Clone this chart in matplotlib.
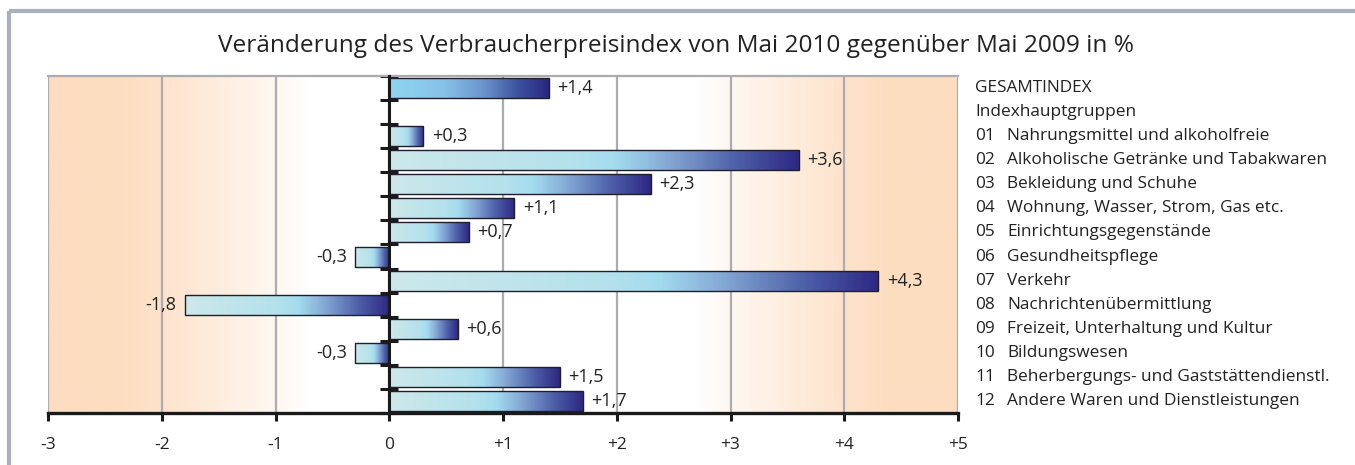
import numpy as np
import matplotlib
matplotlib.use("Agg")
import matplotlib.pyplot as plt
from matplotlib import transforms
from matplotlib.colors import LinearSegmentedColormap
from matplotlib.lines import Line2D

plt.rcParams['font.family'] = ['Open Sans', 'DejaVu Sans']

# ---------------- data ----------------
title = "Veränderung des Verbraucherpreisindex von Mai 2010 gegenüber Mai 2009 in %"
codes = ["", "", "01", "02", "03", "04", "05", "06", "07", "08", "09", "10", "11", "12"]
names = ["GESAMTINDEX", "Indexhauptgruppen",
         "Nahrungsmittel und alkoholfreie",
         "Alkoholische Getränke und Tabakwaren",
         "Bekleidung und Schuhe",
         "Wohnung, Wasser, Strom, Gas etc.",
         "Einrichtungsgegenstände",
         "Gesundheitspflege",
         "Verkehr",
         "Nachrichtenübermittlung",
         "Freizeit, Unterhaltung und Kultur",
         "Bildungswesen",
         "Beherbergungs- und Gaststättendienstl.",
         "Andere Waren und Dienstleistungen"]
values = [1.4, None, 0.3, 3.6, 2.3, 1.1, 0.7, -0.3, 4.3, -1.8, 0.6, -0.3, 1.5, 1.7]
xticks = [-3, -2, -1, 0, 1, 2, 3, 4, 5]
xticklabels = ["-3", "-2", "-1", "0", "+1", "+2", "+3", "+4", "+5"]

# ---------------- figure ----------------
W, H = 1355, 465
fig = plt.figure(figsize=(W / 100, H / 100), dpi=100)
fig.patch.set_facecolor("white")

# outer frame (left and top lines)
frame_col = "#a7afbd"
fig.add_artist(Line2D([9 / W, 9 / W], [0, 1 - 11 / H], transform=fig.transFigure,
                      color=frame_col, lw=3, solid_capstyle="butt"))
fig.add_artist(Line2D([9 / W, 1], [1 - 11 / H, 1 - 11 / H], transform=fig.transFigure,
                      color=frame_col, lw=3, solid_capstyle="butt"))

ax_l, ax_r, ax_t, ax_b = 48, 958, 76, 413
ax = fig.add_axes([ax_l / W, 1 - ax_b / H, (ax_r - ax_l) / W, (ax_b - ax_t) / H])

nrows = len(names)
xmin, xmax = xticks[0], xticks[-1]

# background gradient (orange at edges, white in middle), symmetric around x=1
orange = np.array([253, 221, 192]) / 255.0
white = np.array([1.0, 1.0, 1.0])
xs = np.linspace(xmin, xmax, 1000)
d = np.abs(xs - 1.0)
t = np.interp(d, [0, 1.7, 2.0, 2.5, 3.0, 3.4, 4.0], [0, 0, 0.22, 0.52, 0.82, 1.0, 1.0])
bg = white[None, :] * (1 - t[:, None]) + orange[None, :] * t[:, None]
ax.imshow(bg[None, :, :], extent=(xmin, xmax, nrows, 0), aspect="auto",
          interpolation="bilinear", zorder=0)

# grid
for xv in xticks:
    ax.axvline(xv, color="#ababb0", lw=1.6, zorder=1)

# bars
cmap_main = LinearSegmentedColormap.from_list(
    "main", [(0.0, "#cde8ea"), (0.45, "#b4e1ec"), (0.55, "#a4dcef"),
             (0.68, "#85a9d5"), (0.85, "#4d5fa8"), (1.0, "#2d2883")])
cmap_total = LinearSegmentedColormap.from_list(
    "total", [(0.0, "#8fd5f0"), (0.35, "#86c1e6"), (0.6, "#6a92cc"),
              (0.82, "#3a4e9c"), (1.0, "#2b2780")])
grad = np.linspace(0, 1, 256)[None, :]

ys = [i + 0.5 for i, v in enumerate(values) if v is not None]
vals = [v for v in values if v is not None]
bars = ax.barh(ys, vals, height=0.83, left=0, facecolor="none",
               edgecolor="#1e1e2e", linewidth=1.0, zorder=4)
for i, (b, v) in enumerate(zip(bars, vals)):
    x0, y0 = b.get_x(), b.get_y()
    w, h = b.get_width(), b.get_height()
    lo, hi = min(x0, x0 + w), max(x0, x0 + w)
    cm = cmap_total if i == 0 else cmap_main
    im = ax.imshow(grad, cmap=cm, extent=(lo, hi, y0 + h, y0), aspect="auto",
                   interpolation="bilinear", zorder=3)
    im.set_clip_path(b)
    lab = f"{v:+.1f}".replace(".", ",")
    if v >= 0:
        ax.annotate(lab, (hi, y0 + h / 2), xytext=(6, 0), textcoords="offset points",
                    ha="left", va="center", fontsize=13, color="#222222", zorder=5)
    else:
        ax.annotate(lab, (lo, y0 + h / 2), xytext=(-6, 0), textcoords="offset points",
                    ha="right", va="center", fontsize=13, color="#222222", zorder=5)

ax.set_xlim(xmin, xmax)
ax.set_ylim(nrows, 0)

# spines
ax.spines["left"].set_position(("data", 0))
ax.spines["left"].set_color("#1a1a1a")
ax.spines["left"].set_linewidth(2.2)
ax.spines["left"].set_zorder(6)
ax.spines["bottom"].set_color("#1a1a1a")
ax.spines["bottom"].set_linewidth(2.4)
ax.spines["top"].set_color("#ababb0")
ax.spines["top"].set_linewidth(1.6)
ax.spines["right"].set_visible(False)

ax.set_yticks(np.arange(0, nrows + 1))
ax.set_yticklabels([])
ax.tick_params(axis="y", direction="inout", length=13, width=2.2, color="#1a1a1a")
ax.set_xticks(xticks)
ax.set_xticklabels(xticklabels, fontsize=12.5, color="#222222")
ax.tick_params(axis="x", direction="out", length=6, width=2.2, color="#1a1a1a", pad=11)

# legend text on the right
tr = transforms.blended_transform_factory(ax.transAxes, ax.transData)
x_code = (975 - ax_l) / (ax_r - ax_l)
x_name = (1007 - ax_l) / (ax_r - ax_l)
fs_leg = 12.4
for i, (c, n) in enumerate(zip(codes, names)):
    if c:
        ax.text(x_code, i + 0.5, c, transform=tr, ha="left", va="center",
                fontsize=fs_leg, color="#222222", clip_on=False)
        ax.text(x_name, i + 0.5, n, transform=tr, ha="left", va="center",
                fontsize=fs_leg, color="#222222", clip_on=False)
    else:
        ax.text(x_code, i + 0.5, n, transform=tr, ha="left", va="center",
                fontsize=fs_leg, color="#222222", clip_on=False)

fig.text(676 / W, 1 - 52 / H, title, ha="center", va="baseline",
         fontsize=17.6, color="#222222")

fig.savefig("out.png", dpi=100)
